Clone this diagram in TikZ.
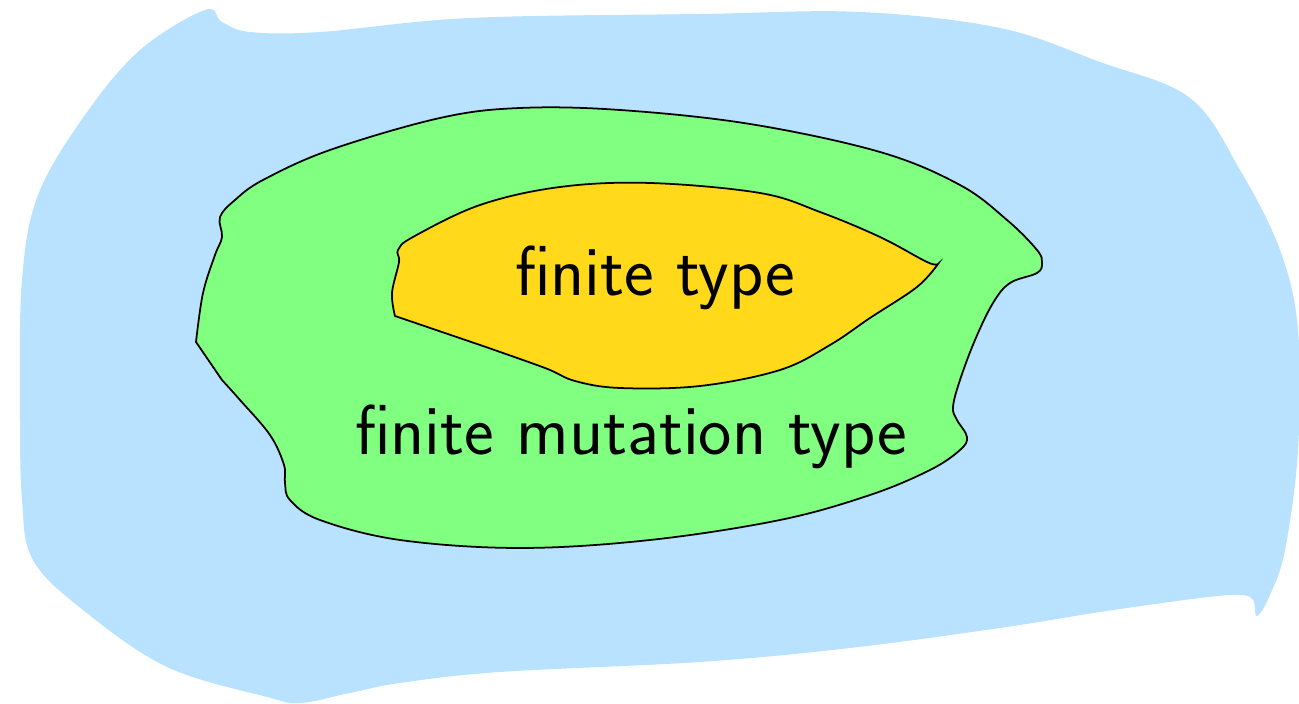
\documentclass[tikz,border=0pt]{standalone}
\usepackage{fontspec}
\definecolor{skyblue}{RGB}{184, 226, 255}
\definecolor{mutgreen}{RGB}{128, 255, 128}
\definecolor{fingold}{RGB}{255, 217, 26}
\usepackage{tikz}
\usetikzlibrary{positioning}

\tikzset{
  blobline/.style={draw=black, line width=0.5pt},
  classlabel/.style={font=\fontsize{20.1}{24}\selectfont\sffamily, anchor=base, inner sep=0pt}
}

\begin{document}
\begin{tikzpicture}[x=0.01cm, y=-0.01cm]
  \useasboundingbox (0,0) rectangle (1299,704);

  % All quivers
  \fill[skyblue] plot[smooth cycle, tension=0.6] coordinates {
    (205,10) (222,22) (250,32) (320,32) (470,18) (700,14) (860,12) (1000,28)
    (1100,62) (1190,98) (1240,170) (1280,250) (1298,330) (1298,450) (1285,550)
    (1270,595) (1257,616) (1253,600) (1240,595) (1200,598) (1100,612) (1000,628)
    (850,648) (700,662) (500,672) (400,683) (350,693) (300,703) (267,697)
    (167,667) (83,610) (33,560) (22,500) (20,400) (22,280) (38,195) (85,115)
    (140,50)
  };

  % Finite mutation type
  \path[blobline, fill=mutgreen] plot[smooth, tension=0.6] coordinates {
    (196,342) (203,293) (215,255) (222,237) (220,217) (235,200) (263,180)
    (330,150) (440,118) (520,108) (620,110) (750,124) (880,152) (960,185)
    (1007,220) (1037,250) (1042,263) (1037,273) (1010,283) (993,303) (975,340)
    (960,380) (953,407) (957,420) (967,437) (960,450) (930,470) (870,495)
    (780,520) (650,540) (520,548) (400,540) (320,520) (290,500) (285,483)
    (284,465) (270,435) (240,400) (222,380)
  } -- cycle;

  % Finite type
  \path[blobline, fill=fingold] plot[smooth, tension=0.6] coordinates {
    (395,316) (392,293) (399,262) (398,250) (413,237) (480,205) (560,187)
    (650,183) (760,193) (820,212) (880,237) (927,262) (938,264)
  } -- plot[smooth, tension=0.6] coordinates {
    (938,264) (917,287) (870,318) (830,345) (780,370) (700,386) (620,388)
    (575,381) (545,368) (480,345)
  } -- cycle;

  % Labels
  \node[classlabel] (ft) at (655,296) {finite type};
  \node[classlabel] (fmt) at (631,455) {finite mutation type};
\end{tikzpicture}
\end{document}
